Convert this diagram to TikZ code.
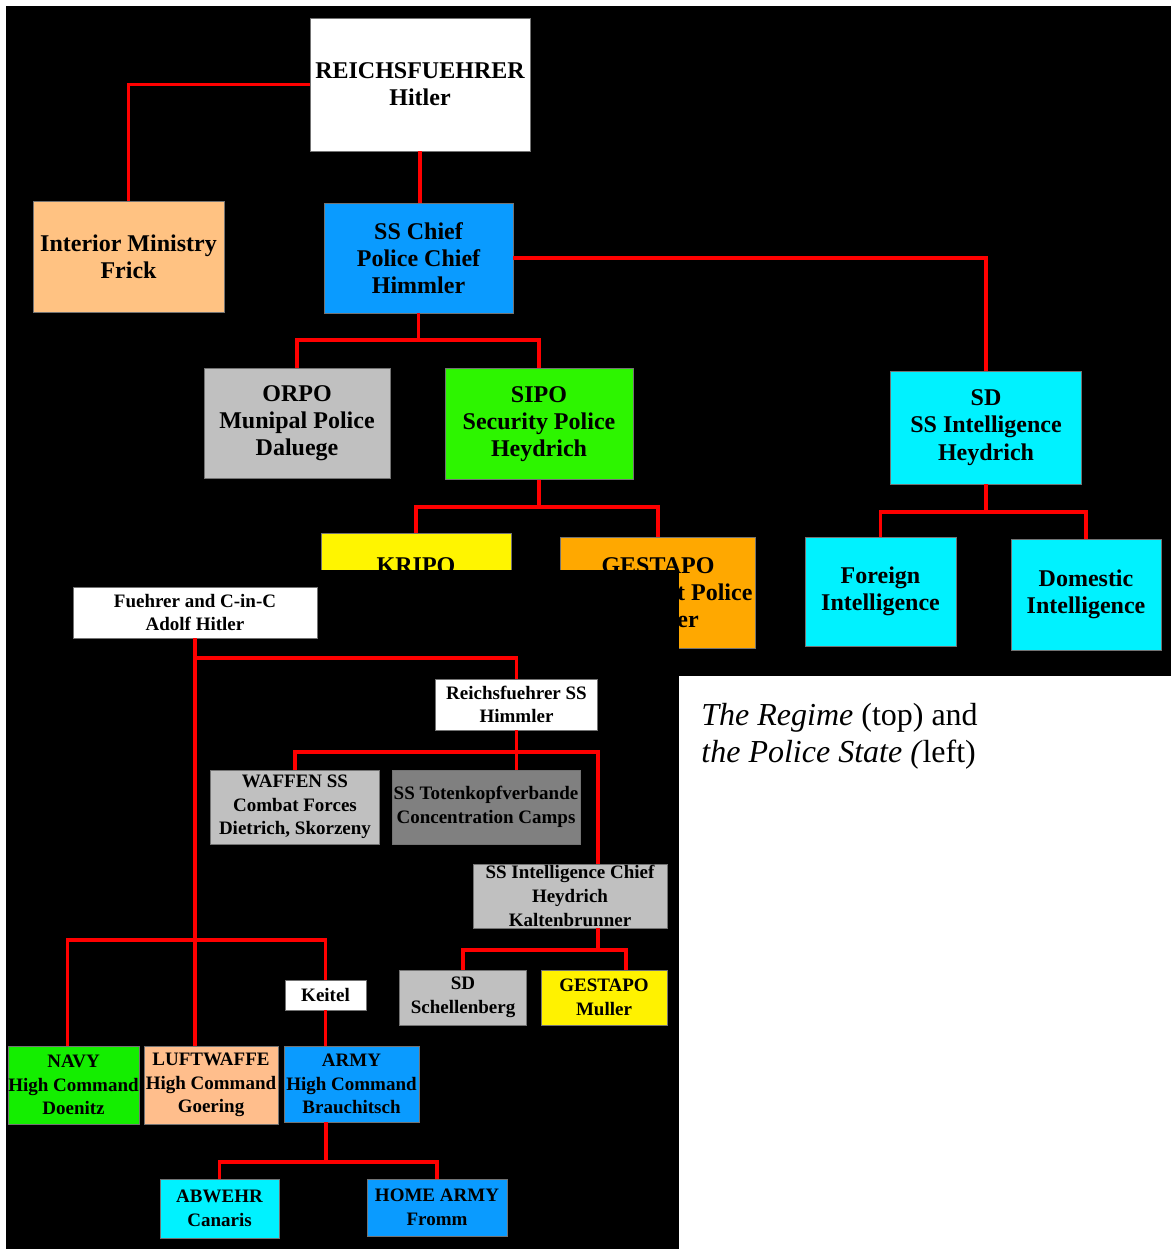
\documentclass[tikz,border=0pt]{standalone}
\usepackage{fontspec}
\setmainfont{Liberation Serif}
\usepackage{tikz}

\tikzset{
  unit/.style={draw=black!55, line width=0.4pt, inner sep=0pt, align=center,
    font=\bfseries\fontsize{12}{13.6}\selectfont},
  small unit/.style={unit, font=\bfseries\fontsize{9.5}{11.8}\selectfont},
  link/.style={red, line width=1.8pt},
}

\begin{document}
\begin{tikzpicture}[x=0.5pt, y=-0.5pt]
        \definecolor{peach}{RGB}{255,194,130}
        \definecolor{ssblue}{RGB}{10,155,255}
        \definecolor{sipogreen}{RGB}{45,245,0}
        \definecolor{navygreen}{RGB}{20,238,0}
        \definecolor{kripoyellow}{RGB}{255,245,0}
        \definecolor{gestapoorange}{RGB}{255,168,0}
        \definecolor{sdcyan}{RGB}{0,242,255}
        \definecolor{lightgray}{RGB}{192,192,192}
        \definecolor{darkgray}{RGB}{128,128,128}
        \definecolor{luftpeach}{RGB}{255,190,140}

        \useasboundingbox (0,0) rectangle (1171,1249);
        \fill[white] (0,0) rectangle (1171,1249);

        % The Regime (top)
        \fill[black] (6,6) rectangle (1171,676);

        \node[unit, fill=white, minimum width=110pt, minimum height=66.5pt] (hitler) at (420,84.5) {REICHSFUEHRER\\Hitler};
        \node[unit, fill=peach, minimum width=95.5pt, minimum height=55.5pt] (frick) at (128.5,256.5) {Interior Ministry\\Frick};
        \node[unit, fill=ssblue, minimum width=94.5pt, minimum height=55pt] (sschief) at (418.5,258) {SS Chief\\Police Chief\\Himmler};
        \node[unit, fill=lightgray, minimum width=93pt, minimum height=55pt] (orpo) at (297,423) {ORPO\\Munipal Police\\Daluege};
        \node[unit, fill=sipogreen, minimum width=94pt, minimum height=55.5pt] (sipo) at (539,424) {SIPO\\Security Police\\Heydrich};
        \node[unit, fill=kripoyellow, minimum width=95pt, minimum height=60pt] (kripo) at (416,593) {KRIPO\\Criminal Police\\Nebe};
        \node[unit, fill=gestapoorange, minimum width=97.5pt, minimum height=55.5pt] (gestapo) at (658,592.5) {GESTAPO\\State Secret Police\\Mueller};
        \node[unit, fill=sdcyan, minimum width=95.5pt, minimum height=56.5pt] (sd) at (986,427.5) {SD\\SS Intelligence\\Heydrich};
        \node[unit, fill=sdcyan, minimum width=75.5pt, minimum height=54.5pt] (foreign) at (880.5,591.5) {Foreign\\Intelligence};
        \node[unit, fill=sdcyan, minimum width=75pt, minimum height=55.5pt] (domestic) at (1086,594.5) {Domestic\\Intelligence};

        % connectors of the top chart
        \coordinate (policejoin) at (418.5,340);
        \coordinate (sipojoin) at (539,507);
        \coordinate (sdjoin) at (986,512);
        \draw[link] (hitler.west) -| (frick.north);
        \draw[link] (hitler.south) -- (hitler.south |- sschief.north);
        \draw[link] (sschief.east) -| (sd.north);
        \draw[link] (sschief.south) -- (policejoin);
        \draw[link] (orpo.north) |- (policejoin) -| (sipo.north);
        \draw[link] (sipo.south) -- (sipojoin);
        \draw[link] (kripo.north) |- (sipojoin) -| (gestapo.north);
        \draw[link] (sd.south) -- (sdjoin);
        \draw[link] (foreign.north) |- (sdjoin) -| (domestic.north);

        % The Police State (left)
        \fill[black] (6,570) rectangle (679,1249);

        \node[small unit, fill=white, minimum width=122pt, minimum height=25.5pt] (fuehrer) at (195,612.5) {Fuehrer and C-in-C\\Adolf Hitler};
        \node[small unit, fill=white, minimum width=81pt, minimum height=25.5pt] (rfss) at (516.5,704.5) {Reichsfuehrer SS\\Himmler};
        \node[small unit, fill=lightgray, minimum width=84.5pt, minimum height=37pt] (waffen) at (295,807) {WAFFEN SS\\Combat Forces\\Dietrich, Skorzeny};
        \node[small unit, fill=darkgray, minimum width=94pt, minimum height=37pt] (totenkopf) at (486,807) {SS Totenkopfverbande\\Concentration Camps};
        \node[small unit, fill=lightgray, minimum width=97pt, minimum height=32pt] (sic) at (570,896) {SS Intelligence Chief\\Heydrich\\Kaltenbrunner};
        \node[small unit, fill=lightgray, minimum width=63.5pt, minimum height=27.5pt] (sdb) at (463,997.5) {SD\\Schellenberg};
        \node[small unit, fill=yellow, minimum width=63pt, minimum height=27.5pt] (gestapob) at (604,997.5) {GESTAPO\\Muller};
        \node[small unit, fill=white, minimum width=40.5pt, minimum height=15pt] (keitel) at (325.5,995) {Keitel};
        \node[small unit, fill=navygreen, minimum width=65.5pt, minimum height=39pt] (navy) at (73.5,1085) {NAVY\\High Command\\Doenitz};
        \node[small unit, fill=luftpeach, minimum width=67pt, minimum height=39pt] (luft) at (211,1085) {LUFTWAFFE\\High Command\\Goering};
        \node[small unit, fill=ssblue, minimum width=67.5pt, minimum height=38pt] (army) at (351.5,1084) {ARMY\\High Command\\Brauchitsch};
        \node[small unit, fill=sdcyan, minimum width=59.5pt, minimum height=29.5pt] (abwehr) at (219.5,1208.5) {ABWEHR\\Canaris};
        \node[small unit, fill=ssblue, minimum width=70pt, minimum height=28.5pt] (home) at (437,1207.5) {HOME ARMY\\Fromm};

        % connectors of the bottom chart
        \coordinate (ssbranch) at (195,658);
        \coordinate (forces) at (195,940);
        \coordinate (rfjoin) at (516.5,752);
        \coordinate (sicin) at (598,752);
        \coordinate (sicjoin) at (598,950);
        \coordinate (armyjoin) at (326,1162);
        \draw[link] (fuehrer.south) -- (fuehrer.south |- luft.north);
        \draw[link] (ssbranch) -| (rfss.north);
        \draw[link] (rfss.south) -- (rfss.south |- totenkopf.north);
        \draw[link] (waffen.north) |- (sicin) -- (sicin |- sic.north);
        \draw[link] (sicjoin |- sic.south) -- (sicjoin);
        \draw[link] (sdb.north) |- (sicjoin) -| ([xshift=11pt]gestapob.north);
        \draw[link] ([xshift=-3pt]navy.north) |- (forces) -| (keitel.north);
        \draw[link] (keitel.south) -- (keitel.south |- army.north);
        \draw[link] (armyjoin |- army.south) -- (armyjoin);
        \draw[link] (abwehr.north) |- (armyjoin) -| (home.north);

        % caption
        \node[anchor=base west, font=\fontsize{16}{18.5}\selectfont, inner sep=0pt] (caption1) at (701,725) {\textit{The Regime} (top) and};
        \node[anchor=base west, font=\fontsize{16}{18.5}\selectfont, inner sep=0pt] (caption2) at (701,762) {\textit{the Police State (}left)};
\end{tikzpicture}
\end{document}
